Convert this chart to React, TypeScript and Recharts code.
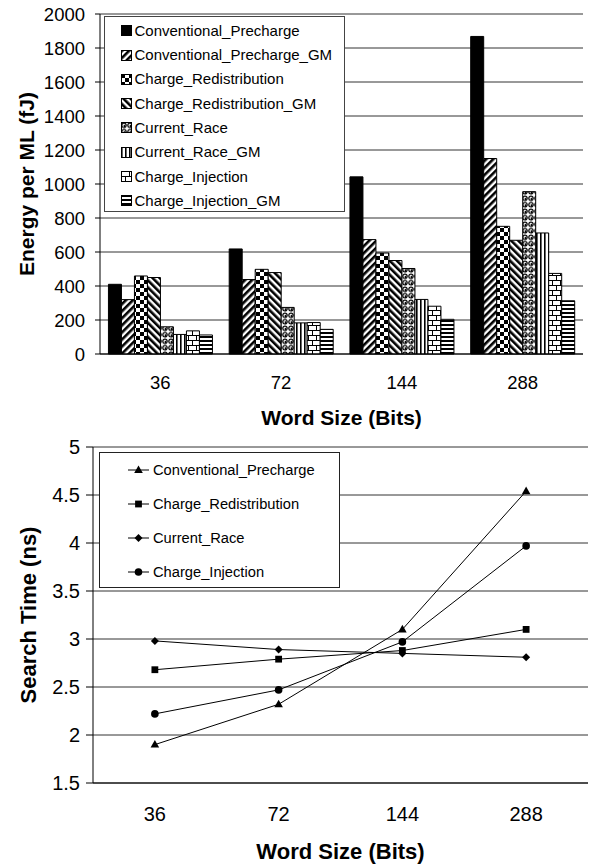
import React from 'react';
import {
  BarChart,
  Bar,
  LineChart,
  Line,
  XAxis,
  YAxis,
  CartesianGrid,
  Legend,
  ReferenceLine,
} from 'recharts';

const FONT = '"Liberation Sans", Arial, Helvetica, sans-serif';

// ---------- Data ----------
const wordSizes = ['36', '72', '144', '288'];
const boundaryTicks = [0, 1, 2, 3, 4];

const energySeries = [
  'Conventional_Precharge',
  'Conventional_Precharge_GM',
  'Charge_Redistribution',
  'Charge_Redistribution_GM',
  'Current_Race',
  'Current_Race_GM',
  'Charge_Injection',
  'Charge_Injection_GM',
];
const convPrecharge = [410, 618, 1042, 1868];
const convPrechargeGM = [320, 438, 673, 1150];
const chargeRedist = [459, 498, 594, 751];
const chargeRedistGM = [450, 479, 550, 669];
const currentRace = [160, 274, 503, 955];
const currentRaceGM = [115, 183, 321, 712];
const chargeInj = [136, 185, 281, 474];
const chargeInjGM = [112, 145, 204, 313];
const energyTicks = [0, 200, 400, 600, 800, 1000, 1200, 1400, 1600, 1800, 2000];

const timeSeries = ['Conventional_Precharge', 'Charge_Redistribution', 'Current_Race', 'Charge_Injection'];
const cpTime = [1.9, 2.32, 3.1, 4.54];
const crTime = [2.68, 2.79, 2.88, 3.1];
const curTime = [2.98, 2.89, 2.85, 2.81];
const ciTime = [2.22, 2.47, 2.97, 3.97];
const timeTicks = [1.5, 2, 2.5, 3, 3.5, 4, 4.5, 5];

// ---------- Derived tables ----------
const energyValues = [
  convPrecharge,
  convPrechargeGM,
  chargeRedist,
  chargeRedistGM,
  currentRace,
  currentRaceGM,
  chargeInj,
  chargeInjGM,
];
const energyData = wordSizes.map((size, i) => {
  const row: any = { size };
  energySeries.forEach((n, k) => {
    row[n] = energyValues[k][i];
  });
  return row;
});

const timeValues = [cpTime, crTime, curTime, ciTime];
const timeData = wordSizes.map((size, i) => {
  const row: any = { size };
  timeSeries.forEach((n, k) => {
    row[n] = timeValues[k][i];
  });
  return row;
});

const energyFills = [
  '#000',
  'url(#pCPGM)',
  'url(#pCR)',
  'url(#pCRGM)',
  'url(#pCur)',
  'url(#pCurGM)',
  'url(#pCI)',
  'url(#pCIGM)',
];
const markerShapes = ['triangle', 'square', 'diamond', 'circle'];

// ---------- Patterns ----------
function Patterns() {
  return (
    <svg width={0} height={0} style={{ position: 'absolute', left: 0, top: 0 }}>
      <defs>
        <pattern id="pCPGM" patternUnits="userSpaceOnUse" width={5} height={5} patternTransform="rotate(45)">
          <rect width={5} height={5} fill="#fff" />
          <rect width={2.6} height={5} fill="#000" />
        </pattern>
        <pattern id="pCRGM" patternUnits="userSpaceOnUse" width={5} height={5} patternTransform="rotate(-45)">
          <rect width={5} height={5} fill="#fff" />
          <rect width={2.6} height={5} fill="#000" />
        </pattern>
        <pattern id="pCR" patternUnits="userSpaceOnUse" width={8} height={8}>
          <rect width={8} height={8} fill="#fff" />
          <rect width={4} height={4} fill="#000" />
          <rect x={4} y={4} width={4} height={4} fill="#000" />
        </pattern>
        <pattern id="pCur" patternUnits="userSpaceOnUse" width={6} height={6.5}>
          <rect width={6} height={6.5} fill="#fff" />
          <circle cx={3} cy={3.25} r={2.2} fill="#fff" stroke="#000" strokeWidth={1.2} />
          <circle cx={3.5} cy={3.8} r={1} fill="#000" />
        </pattern>
        <pattern id="pCurGM" patternUnits="userSpaceOnUse" width={4} height={4}>
          <rect width={4} height={4} fill="#fff" />
          <rect width={1.6} height={4} fill="#000" />
        </pattern>
        <pattern id="pCI" patternUnits="userSpaceOnUse" width={8} height={10}>
          <rect width={8} height={10} fill="#fff" />
          <line x1={0} y1={0.5} x2={8} y2={0.5} stroke="#000" strokeWidth={1} />
          <line x1={0} y1={5.5} x2={8} y2={5.5} stroke="#000" strokeWidth={1} />
          <line x1={0.5} y1={0} x2={0.5} y2={5} stroke="#000" strokeWidth={1} />
          <line x1={4.5} y1={5} x2={4.5} y2={10} stroke="#000" strokeWidth={1} />
        </pattern>
        <pattern id="pCIGM" patternUnits="userSpaceOnUse" width={4} height={4}>
          <rect width={4} height={4} fill="#fff" />
          <rect width={4} height={2} fill="#000" />
        </pattern>
      </defs>
    </svg>
  );
}

// ---------- Helpers ----------
const YTitle = (props: any) => {
  const { viewBox, text, px, size } = props;
  const cy = viewBox.y + viewBox.height / 2;
  return (
    <text
      x={px}
      y={cy}
      transform={`rotate(-90 ${px} ${cy})`}
      textAnchor="middle"
      dominantBaseline="central"
      fontSize={size}
      fontWeight="bold"
      fill="#000"
      fontFamily={FONT}
    >
      {text}
    </text>
  );
};

const MarkerShape = ({ cx, cy, shape }: { cx: number; cy: number; shape: string }) => {
  if (shape === 'triangle') {
    return <polygon points={`${cx},${cy - 4.6} ${cx + 4.3},${cy + 3} ${cx - 4.3},${cy + 3}`} fill="#000" />;
  }
  if (shape === 'square') {
    return <rect x={cx - 3.4} y={cy - 3.4} width={6.8} height={6.8} fill="#000" />;
  }
  if (shape === 'diamond') {
    return <polygon points={`${cx},${cy - 4} ${cx + 4},${cy} ${cx},${cy + 4} ${cx - 4},${cy}`} fill="#000" />;
  }
  return <circle cx={cx} cy={cy} r={3.8} fill="#000" />;
};

function EnergyLegend() {
  return (
    <div
      style={{
        width: 239,
        height: 194,
        border: '1px solid #444',
        background: '#fff',
        position: 'relative',
        fontFamily: FONT,
        fontSize: 15,
        color: '#000',
      }}
    >
      {energySeries.map((name, k) => (
        <div
          key={name}
          style={{
            position: 'absolute',
            left: 16,
            top: 13.7 + k * 24.3 - 9,
            height: 18,
            display: 'flex',
            alignItems: 'center',
            whiteSpace: 'nowrap',
          }}
        >
          <svg width={11} height={11} style={{ marginRight: 2.5, display: 'block' }}>
            <rect x={0.5} y={0.5} width={10} height={10} fill={energyFills[k]} stroke="#000" />
          </svg>
          <span style={{ lineHeight: '18px' }}>{name}</span>
        </div>
      ))}
    </div>
  );
}

function TimeLegend() {
  return (
    <div
      style={{
        width: 239,
        height: 134,
        border: '1px solid #222',
        background: '#fff',
        position: 'relative',
        fontFamily: FONT,
        fontSize: 14.7,
        color: '#000',
      }}
    >
      {timeSeries.map((name, k) => (
        <div
          key={name}
          style={{
            position: 'absolute',
            left: 28,
            top: 17 + k * 33.9 - 10,
            height: 20,
            display: 'flex',
            alignItems: 'center',
            whiteSpace: 'nowrap',
          }}
        >
          <svg width={22} height={12} style={{ marginRight: 3, display: 'block' }}>
            <line x1={0} y1={6} x2={21} y2={6} stroke="#000" strokeWidth={1} />
            <MarkerShape cx={10.5} cy={6} shape={markerShapes[k]} />
          </svg>
          <span style={{ lineHeight: '20px' }}>{name}</span>
        </div>
      ))}
    </div>
  );
}

// ---------- App ----------
export default function App() {
  return (
    <div style={{ position: 'absolute', left: 0, top: 0, width: 592, height: 866, background: '#fff', fontFamily: FONT }}>
      <Patterns />
      <div style={{ position: 'absolute', left: 0, top: 0 }}>
        <BarChart
          width={592}
          height={434}
          data={energyData}
          margin={{ top: 14, right: 9, left: 0, bottom: 0 }}
          barCategoryGap="7%"
          barGap={0}
        >
          <XAxis
            xAxisId={0}
            type="number"
            domain={[0, 4]}
            ticks={boundaryTicks}
            allowDataOverflow
            height={0}
            axisLine={false}
            tick={false}
            tickLine={{ stroke: '#000' }}
            tickSize={6}
          />
          <XAxis
            xAxisId={1}
            dataKey="size"
            height={80}
            tickLine={false}
            tickSize={0}
            tickMargin={22}
            axisLine={{ stroke: '#000' }}
            tick={{ fill: '#000', fontSize: 18.5, fontFamily: FONT }}
            label={{
              value: 'Word Size (Bits)',
              position: 'insideBottom',
              offset: 9,
              fill: '#000',
              fontSize: 21,
              fontWeight: 'bold',
              fontFamily: FONT,
            }}
          />
          <YAxis
            width={100}
            domain={[0, 2000]}
            ticks={energyTicks}
            interval={0}
            tickSize={5}
            tickMargin={10}
            axisLine={{ stroke: '#000' }}
            tickLine={{ stroke: '#000' }}
            tick={{ fill: '#000', fontSize: 18.5, fontFamily: FONT }}
            label={<YTitle text="Energy per ML (fJ)" px={26} size={21} />}
          />
          <CartesianGrid vertical={false} stroke="#333" />
          <ReferenceLine xAxisId={0} x={4} stroke="#888" />
          {energySeries.map((name, k) => (
            <Bar
              key={name}
              xAxisId={1}
              dataKey={name}
              fill={energyFills[k]}
              stroke="#000"
              strokeWidth={1}
              isAnimationActive={false}
            />
          ))}
          <Legend
            layout="vertical"
            align="center"
            verticalAlign="middle"
            wrapperStyle={{ left: 104, top: 16, width: 241, height: 196 }}
            content={() => <EnergyLegend />}
          />
        </BarChart>
      </div>
      <div style={{ position: 'absolute', left: 0, top: 434 }}>
        <LineChart
          width={592}
          height={432}
          data={timeData}
          margin={{ top: 13, right: 4, left: 0, bottom: 0 }}
        >
          <XAxis
            xAxisId={0}
            type="number"
            domain={[0, 4]}
            ticks={boundaryTicks}
            allowDataOverflow
            height={0}
            axisLine={false}
            tick={false}
            tickLine={{ stroke: '#000' }}
            tickSize={6}
          />
          <XAxis
            xAxisId={1}
            dataKey="size"
            scale="band"
            height={83}
            tickLine={false}
            tickSize={0}
            tickMargin={24}
            axisLine={{ stroke: '#000' }}
            tick={{ fill: '#000', fontSize: 20, fontFamily: FONT }}
            label={{
              value: 'Word Size (Bits)',
              position: 'insideBottom',
              offset: 7,
              fill: '#000',
              fontSize: 22,
              fontWeight: 'bold',
              fontFamily: FONT,
            }}
          />
          <YAxis
            width={93}
            domain={[1.5, 5]}
            ticks={timeTicks}
            interval={0}
            tickSize={7}
            tickMargin={6}
            axisLine={{ stroke: '#000' }}
            tickLine={{ stroke: '#000' }}
            tick={{ fill: '#000', fontSize: 20, fontFamily: FONT }}
            label={<YTitle text="Search Time (ns)" px={28} size={22} />}
          />
          <CartesianGrid vertical={false} stroke="#333" />
          <ReferenceLine xAxisId={0} x={4} stroke="#888" />
          {timeSeries.map((name, k) => (
            <Line
              key={name}
              xAxisId={1}
              dataKey={name}
              stroke="#000"
              strokeWidth={1}
              isAnimationActive={false}
              dot={(p: any) => <MarkerShape key={`${name}-${p.index}`} cx={p.cx} cy={p.cy} shape={markerShapes[k]} />}
              activeDot={false}
            />
          ))}
          <Legend
            layout="vertical"
            align="center"
            verticalAlign="middle"
            wrapperStyle={{ left: 99, top: 18, width: 241, height: 136 }}
            content={() => <TimeLegend />}
          />
        </LineChart>
      </div>
    </div>
  );
}
